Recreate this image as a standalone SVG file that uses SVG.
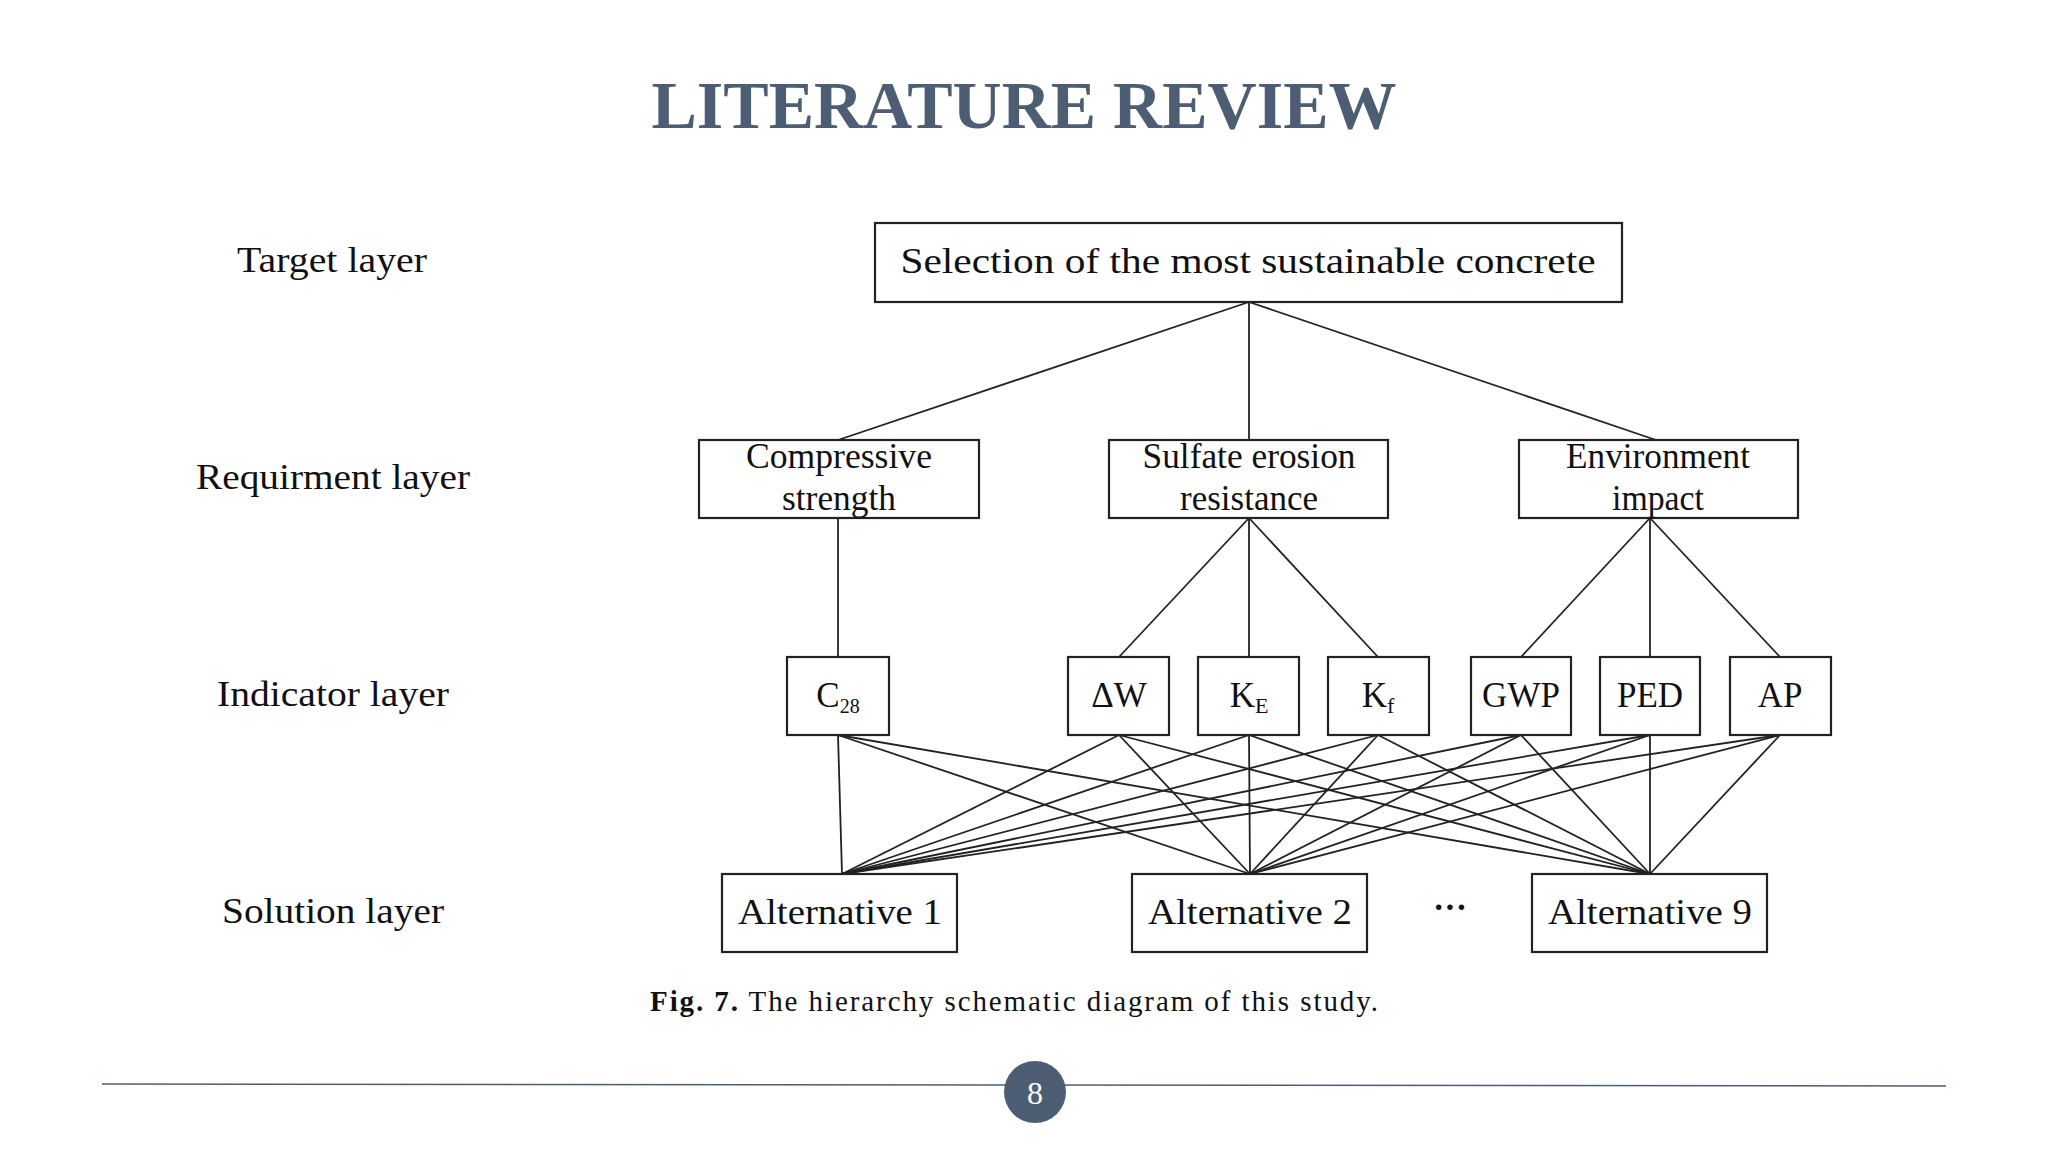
<svg xmlns="http://www.w3.org/2000/svg" width="2048" height="1152" viewBox="0 0 2048 1152">
<style>
.b{fill:#fff;stroke:#222;stroke-width:2.2}
.t{font-family:"Liberation Serif",serif;font-size:35px;fill:#111;text-anchor:middle}
.l{font-family:"Liberation Serif",serif;font-size:35px;fill:#111;text-anchor:middle}
#connectors line{stroke:#222;stroke-width:1.8}
</style>
<rect width="2048" height="1152" fill="#fff"/>
<text x="1024" y="128" font-family="Liberation Serif,serif" font-weight="bold" font-size="68" fill="#4d5e74" text-anchor="middle">LITERATURE REVIEW</text>
<g id="labels">
<text class="l" x="332" y="272" textLength="190" lengthAdjust="spacingAndGlyphs">Target layer</text>
<text class="l" x="333" y="489" textLength="274" lengthAdjust="spacingAndGlyphs">Requirment layer</text>
<text class="l" x="333" y="706" textLength="232" lengthAdjust="spacingAndGlyphs">Indicator layer</text>
<text class="l" x="333" y="923" textLength="222" lengthAdjust="spacingAndGlyphs">Solution layer</text>
</g>
<g id="connectors">
<line x1="1249" y1="302" x2="838" y2="440"/><line x1="1249" y1="302" x2="1249" y2="440"/><line x1="1249" y1="302" x2="1656" y2="440"/>
<line x1="838" y1="518" x2="838" y2="657"/>
<line x1="1249" y1="518" x2="1119" y2="657"/><line x1="1249" y1="518" x2="1249" y2="657"/><line x1="1249" y1="518" x2="1378" y2="657"/>
<line x1="1650" y1="518" x2="1521" y2="657"/><line x1="1650" y1="518" x2="1650" y2="657"/><line x1="1650" y1="518" x2="1780" y2="657"/>
<line x1="838" y1="735" x2="842" y2="874"/><line x1="838" y1="735" x2="1250" y2="874"/><line x1="838" y1="735" x2="1650" y2="874"/>
<line x1="1119" y1="735" x2="842" y2="874"/><line x1="1119" y1="735" x2="1250" y2="874"/><line x1="1119" y1="735" x2="1650" y2="874"/>
<line x1="1249" y1="735" x2="842" y2="874"/><line x1="1249" y1="735" x2="1250" y2="874"/><line x1="1249" y1="735" x2="1650" y2="874"/>
<line x1="1378" y1="735" x2="842" y2="874"/><line x1="1378" y1="735" x2="1250" y2="874"/><line x1="1378" y1="735" x2="1650" y2="874"/>
<line x1="1521" y1="735" x2="842" y2="874"/><line x1="1521" y1="735" x2="1250" y2="874"/><line x1="1521" y1="735" x2="1650" y2="874"/>
<line x1="1650" y1="735" x2="842" y2="874"/><line x1="1650" y1="735" x2="1250" y2="874"/><line x1="1650" y1="735" x2="1650" y2="874"/>
<line x1="1780" y1="735" x2="842" y2="874"/><line x1="1780" y1="735" x2="1250" y2="874"/><line x1="1780" y1="735" x2="1650" y2="874"/>
</g>
<g id="target"><rect class="b" x="875" y="223" width="747" height="79"/><text class="t" x="1248" y="273" textLength="695" lengthAdjust="spacingAndGlyphs">Selection of the most sustainable concrete</text></g>
<g id="req1"><rect class="b" x="699" y="440" width="280" height="78"/><text class="t" x="839" y="468" font-size="32" textLength="186" lengthAdjust="spacingAndGlyphs">Compressive</text><text class="t" x="839" y="510" font-size="32" textLength="114" lengthAdjust="spacingAndGlyphs">strength</text></g>
<g id="req2"><rect class="b" x="1109" y="440" width="279" height="78"/><text class="t" x="1249" y="468" font-size="32" textLength="213" lengthAdjust="spacingAndGlyphs">Sulfate erosion</text><text class="t" x="1249" y="510" font-size="32" textLength="138" lengthAdjust="spacingAndGlyphs">resistance</text></g>
<g id="req3"><rect class="b" x="1519" y="440" width="279" height="78"/><text class="t" x="1658" y="468" font-size="32" textLength="184" lengthAdjust="spacingAndGlyphs">Environment</text><text class="t" x="1658" y="510" font-size="32" textLength="92" lengthAdjust="spacingAndGlyphs">impact</text></g>
<g id="c28"><rect class="b" x="787" y="657" width="102" height="78"/><text class="t" x="838" y="707">C<tspan font-size="20" dy="6">28</tspan></text></g>
<g id="dw"><rect class="b" x="1068" y="657" width="101" height="78"/><text class="t" x="1119" y="707">ΔW</text></g>
<g id="ke"><rect class="b" x="1198" y="657" width="101" height="78"/><text class="t" x="1249" y="707">K<tspan font-size="22" dy="6">E</tspan></text></g>
<g id="kf"><rect class="b" x="1328" y="657" width="101" height="78"/><text class="t" x="1378" y="707">K<tspan font-size="22" dy="6">f</tspan></text></g>
<g id="gwp"><rect class="b" x="1471" y="657" width="100" height="78"/><text class="t" x="1521" y="707" font-size="32">GWP</text></g>
<g id="ped"><rect class="b" x="1600" y="657" width="100" height="78"/><text class="t" x="1650" y="707" font-size="32">PED</text></g>
<g id="ap"><rect class="b" x="1730" y="657" width="101" height="78"/><text class="t" x="1780" y="707" font-size="32">AP</text></g>
<g id="alt1"><rect class="b" x="722" y="874" width="235" height="78"/><text class="t" x="840" y="924" textLength="204" lengthAdjust="spacingAndGlyphs">Alternative 1</text></g>
<g id="alt2"><rect class="b" x="1132" y="874" width="235" height="78"/><text class="t" x="1250" y="924" textLength="204" lengthAdjust="spacingAndGlyphs">Alternative 2</text></g>
<g id="alt9"><rect class="b" x="1532" y="874" width="235" height="78"/><text class="t" x="1650" y="924" textLength="204" lengthAdjust="spacingAndGlyphs">Alternative 9</text></g>
<text x="1450" y="918" font-family="Liberation Serif,serif" font-size="34" font-weight="bold" text-anchor="middle" fill="#111">···</text>
<text x="650" y="1011" font-family="Liberation Serif,serif" font-size="29" fill="#111" textLength="728" lengthAdjust="spacing"><tspan font-weight="bold">Fig. 7.</tspan>  The hierarchy schematic diagram of this study.</text>
<line x1="102" y1="1084" x2="1946" y2="1086" stroke="#4d5e74" stroke-width="1.5"/>
<circle cx="1035" cy="1092" r="31" fill="#4d5e74"/>
<text x="1035" y="1104" font-family="Liberation Serif,serif" font-size="32" fill="#fff" text-anchor="middle">8</text>
</svg>
